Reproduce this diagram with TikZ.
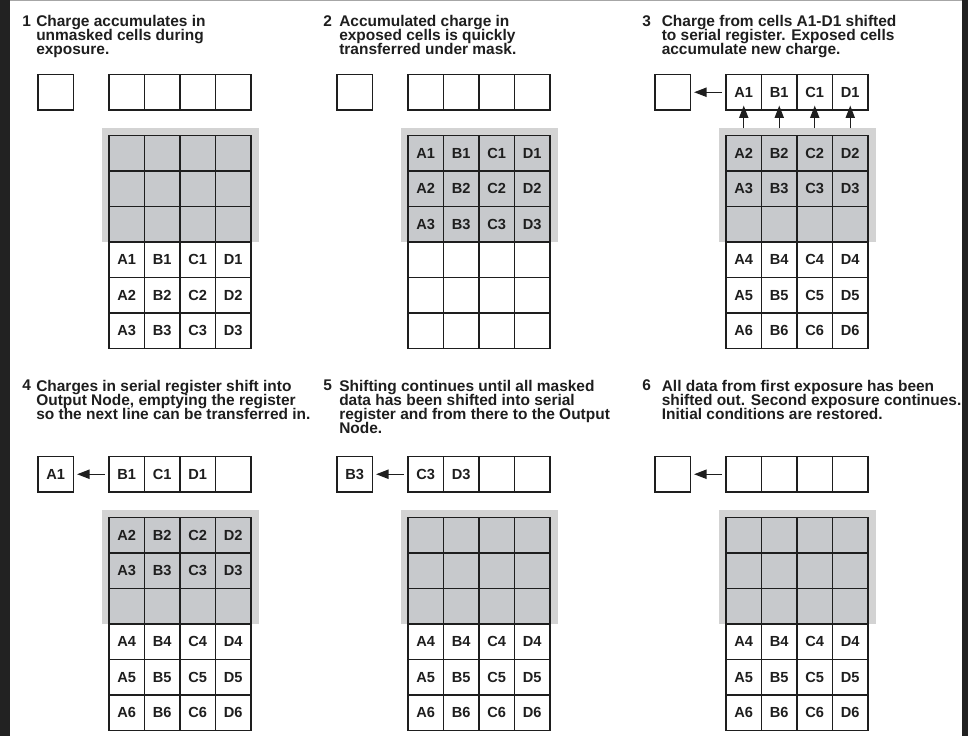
\documentclass[tikz,border=0pt]{standalone}
\usepackage{fontspec}
\setmainfont{Liberation Sans}
\usetikzlibrary{arrows.meta}
\definecolor{ink}{HTML}{1E1E1E}
\definecolor{frame}{HTML}{222222}
\definecolor{maskgray}{HTML}{D3D3D3}
\definecolor{cellgray}{HTML}{C7C9CC}
\newcommand{\cellw}{0.8875}
\newcommand{\gridtop}{1.525}
\newcommand{\captionfont}{\fontsize{11pt}{9.96pt}\selectfont\bfseries\lineskiplimit=-\maxdimen}
\tikzset{
  cell/.style={draw=ink, line width=0.9pt, fill=white, minimum size=\cellw cm, inner sep=0pt, outer sep=0pt,
               font=\fontsize{10.4pt}{12pt}\selectfont\bfseries, text=ink},
  caption/.style={anchor=north west, inner sep=0pt, align=left, font=\captionfont, text=ink},
  shiftarrow/.style={draw=ink, line width=0.95pt, -{Triangle[length=0.31cm, width=0.23cm]}},
}
% #1 name, #2/#3 top left of serial register, #4 output node, #5 register labels, #6 row numbers (0 = empty)
\newcommand{\ccdpanel}[6]{%
  \begin{scope}[shift={(#2,#3)}]
    \fill[maskgray] (-0.1875,-1.35) rectangle ({4*\cellw+0.1875},{-\gridtop-3*\cellw});
    \node[cell] (#1out) at (-1.33125,{-\cellw/2}) {#4};
    \foreach \lab [count=\k] in {#5}
      \node[cell] (#1s\k) at ({(\k-0.5)*\cellw},{-\cellw/2}) {\lab};
    \foreach \rowno [count=\r] in {#6}
      \foreach \colname [count=\c] in {A,B,C,D}{
        \ifnum\r<4 \def\cellfill{cellgray}\else\def\cellfill{white}\fi
        \node[cell, fill=\cellfill] (#1g\r\c) at ({(\c-0.5)*\cellw},{-\gridtop-(\r-0.5)*\cellw})
          {\ifnum\rowno=0 \else\colname\rowno\fi};
      }
  \end{scope}
}

\begin{document}
\begin{tikzpicture}[line cap=butt, line join=miter]

\useasboundingbox (0,0) rectangle (24.2,18.4);
\fill[frame] (0,0) rectangle (24.2,18.4);
\fill[white] (0.25,0) rectangle (24.05,18.37);
\fill[gray!70] (0.25,18.37) rectangle (24.05,18.4);

% ---------------- captions ----------------
\node[caption] (n1) at (0.55,18.02) {1};
\node[caption] (t1) at (0.9,18.02) {Charge accumulates in\\unmasked cells during\\exposure.};
\node[caption] (n2) at (8.075,18.02) {2};
\node[caption] (t2) at (8.475,18.02) {Accumulated charge in\\exposed cells is quickly\\transferred under mask.};
\node[caption] (n3) at (16.05,18.02) {3};
\node[caption] (t3) at (16.5375,18.02) {Charge from cells A1-D1 shifted\\to serial register. Exposed cells\\accumulate new charge.};
\node[caption] (n4) at (0.55,8.905) {4};
\node[caption] (t4) at (0.9,8.905) {Charges in serial register shift into\\Output Node, emptying the register\\so the next line can be transferred in.};
\node[caption] (n5) at (8.075,8.905) {5};
\node[caption] (t5) at (8.475,8.905) {Shifting continues until all masked\\data has been shifted into serial\\register and from there to the Output\\Node.};
\node[caption] (n6) at (16.05,8.905) {6};
\node[caption] (t6) at (16.5375,8.905) {All data from first exposure has been\\shifted out. Second exposure continues.\\Initial conditions are restored.};

% ---------------- the six CCD states ----------------
\ccdpanel{p1}{2.725}{16.5375}{}{{},{},{},{}}{0,0,0,1,2,3}
\ccdpanel{p2}{10.2}{16.5375}{}{{},{},{},{}}{1,2,3,0,0,0}
\ccdpanel{p3}{18.15}{16.5375}{}{A1,B1,C1,D1}{2,3,0,4,5,6}
\ccdpanel{p4}{2.725}{6.9875}{A1}{B1,C1,D1,{}}{2,3,0,4,5,6}
\ccdpanel{p5}{10.2}{6.9875}{B3}{C3,D3,{},{}}{0,0,0,4,5,6}
\ccdpanel{p6}{18.15}{6.9875}{}{{},{},{},{}}{0,0,0,4,5,6}

% ---------------- shifts ----------------
\foreach \p in {p3,p4,p5,p6}
  \draw[shiftarrow, shorten <=0.1cm, shorten >=0.09cm] (\p s1.west) -- (\p out.east);
\foreach \k in {1,...,4}
  \draw[shiftarrow, shorten <=0.175cm, shorten >=-0.11cm] (p3g1\k.north) -- (p3s\k.south);

\end{tikzpicture}
\end{document}
